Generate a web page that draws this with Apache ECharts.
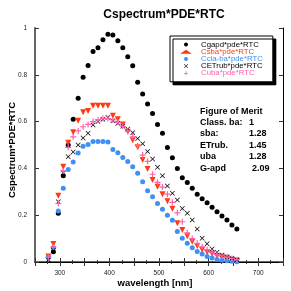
<!DOCTYPE html>
<html><head><meta charset="utf-8">
<script src="https://cdn.jsdelivr.net/npm/echarts@6/dist/echarts.min.js"></script>
<style>html,body{margin:0;padding:0;background:#fff}#c{width:291px;height:291px}</style>
</head><body><div id="c"></div>
<script>
const wavelengths = [277,287,297,307,317,327,337,347,357,367,377,387,397,407,417,427,437,447,457,467,477,487,497,507,517,527,537,547,557,567,577,587,597,607,617,627,637,647,657];
const cgapd = [0.02,0.044,0.208,0.369,0.50,0.61,0.70,0.79,0.84,0.90,0.916,0.95,0.973,0.97,0.945,0.916,0.877,0.839,0.768,0.718,0.675,0.635,0.588,0.55,0.489,0.446,0.40,0.36,0.34,0.315,0.289,0.27,0.253,0.234,0.215,0.197,0.179,0.158,0.141];
const csba = [0.023,0.077,0.283,0.407,0.51,0.554,0.604,0.64,0.645,0.668,0.668,0.668,0.668,0.625,0.61,0.588,0.557,0.52,0.49,0.436,0.397,0.35,0.322,0.29,0.26,0.228,0.166,0.137,0.11,0.087,0.068,0.052,0.042,0.034,0.026,0.02,0.015,0.009,0.005];
const cclaba = [0.02,0.061,0.218,0.315,0.395,0.427,0.466,0.495,0.502,0.515,0.515,0.515,0.513,0.481,0.467,0.447,0.429,0.407,0.379,0.343,0.305,0.279,0.25,0.225,0.2,0.178,0.13,0.101,0.08,0.061,0.045,0.034,0.024,0.017,0.011,0.007,0.005,0.003,0.001];
const cetrub = [0.01,0.05,0.258,0.38,0.45,0.47,0.50,0.53,0.55,0.585,0.60,0.61,0.617,0.604,0.593,0.58,0.568,0.552,0.528,0.505,0.472,0.44,0.405,0.369,0.325,0.294,0.265,0.229,0.208,0.179,0.141,0.101,0.078,0.056,0.042,0.03,0.022,0.016,0.01];
const cuba = [0.02,0.065,0.25,0.389,0.49,0.535,0.56,0.578,0.588,0.6,0.607,0.613,0.613,0.607,0.597,0.58,0.56,0.535,0.497,0.457,0.43,0.375,0.34,0.32,0.29,0.255,0.21,0.172,0.125,0.1,0.08,0.065,0.052,0.042,0.033,0.026,0.02,0.015,0.01];
const seriesNames = ['Cgapd*pde*RTC','Csba*pde*RTC','Ccla-ba*pde*RTC','CETrub*pde*RTC','Cuba*pde*RTC'];
const seriesColors = ['#000000','#ff3a10','#3f8ff5','#000000','#ff5fae'];
const meritLabels = ['Class. ba:','sba:','ETrub.','uba','G-apd'];
const meritValues = ['1','1.28','1.45','1.28','2.09'];

const FONT = '"Liberation Sans", Arial, sans-serif';
const X_SYM = 'path://M0,1L1,0L5,4L9,0L10,1L6,5L10,9L9,10L5,6L1,10L0,9L4,5Z';
const P_SYM = 'path://M4,0H6V4H10V6H6V10H4V6H0V4H4Z';
const symbols = ['circle','triangle','circle',X_SYM,P_SYM];
const sizes = [5,6,5,5,6];
const rot = [0,180,0,0,0];
const allVals = [cgapd,csba,cclaba,cetrub,cuba];

const chart = echarts.init(document.getElementById('c'), null, {renderer:'canvas'});
const series = allVals.map((v,k)=>({
  name: seriesNames[k], type:'scatter', symbol: symbols[k], symbolSize: sizes[k], symbolRotate: rot[k],
  itemStyle:{color: seriesColors[k], opacity:1}, data: wavelengths.map((w,i)=>[w,v[i]]), animation:false
}));
const graphics = [
  {type:'text', x:12, y:150, rotation:Math.PI/2, style:{text:'Cspectrum*PDE*RTC', font:'bold 9.5px '+FONT, fill:'#000', textAlign:'center', textVerticalAlign:'middle'}},
  {type:'text', x:155, y:283, style:{text:'wavelength [nm]', font:'bold 9.5px '+FONT, fill:'#000', textAlign:'center', textVerticalAlign:'middle'}},
  {type:'text', left:200, top:107, style:{text:'Figure of Merit', font:'bold 9px '+FONT, fill:'#000'}}
];
meritLabels.forEach((t,i)=>{
  graphics.push({type:'text', left:200, top:118+i*11.5, style:{text:t, font:'bold 9px '+FONT, fill:'#000'}});
  graphics.push({type:'text', left: i===4?252:249, top:118+i*11.5, style:{text:meritValues[i], font:'bold 9px '+FONT, fill:'#000'}});
});
chart.setOption({
  animation:false,
  title:{text:'Cspectrum*PDE*RTC', left:159, top:4, textAlign:'center', textStyle:{fontFamily:FONT, fontWeight:'bold', fontSize:12, color:'#000'}},
  grid:{left:35, right:8, top:28, bottom:29, containLabel:false, outerBoundsMode:'none'},
  legend:{orient:'vertical', left:170, top:36, data:seriesNames.map((n,k)=>({name:n, textStyle:{color:seriesColors[k]}})),
    itemWidth:12, itemHeight:4, itemGap:-1.8, padding:[4,10,4,10],
    textStyle:{fontFamily:FONT, fontSize:7.8, lineHeight:9, padding:[0,0,0,4]},
    backgroundColor:'#fff', borderColor:'#000', borderWidth:1, shadowColor:'#000', shadowOffsetX:3, shadowOffsetY:3, shadowBlur:0.01},
  xAxis:[
    {type:'value', min:250, max:750, interval:50, position:'bottom',
     axisLine:{lineStyle:{color:'#666', width:2}}, axisTick:{inside:true, length:4, lineStyle:{color:'#333'}},
     minorTick:{show:true, splitNumber:2, length:2, lineStyle:{color:'#333'}},
     axisLabel:{fontFamily:FONT, fontSize:6.5, color:'#222', margin:8, formatter:v=> (v%100===0 && v>=300 && v<=700)? String(v):''},
     splitLine:{show:false}},
    {type:'value', min:250, max:750, interval:50, position:'top', axisLine:{lineStyle:{color:'#000', width:1}},
     axisTick:{inside:true, length:4, lineStyle:{color:'#333'}}, minorTick:{show:true, splitNumber:2, length:2, lineStyle:{color:'#333'}},
     axisLabel:{show:false}, splitLine:{show:false}}
  ],
  yAxis:[
    {type:'value', min:0, max:1, interval:0.2, position:'left',
     axisLine:{lineStyle:{color:'#666', width:2}}, axisTick:{inside:true, length:4, lineStyle:{color:'#333'}},
     axisLabel:{fontFamily:FONT, fontSize:6.5, color:'#222', margin:8, formatter:v=>String(Math.round(v*10)/10)},
     splitLine:{show:false}},
    {type:'value', min:0, max:1, interval:0.2, position:'right', axisLine:{show:true, lineStyle:{color:'#000', width:1}},
     axisTick:{inside:true, length:4, lineStyle:{color:'#333'}}, axisLabel:{show:false}, splitLine:{show:false}}
  ],
  graphic: graphics,
  series: series
});
</script></body></html>
